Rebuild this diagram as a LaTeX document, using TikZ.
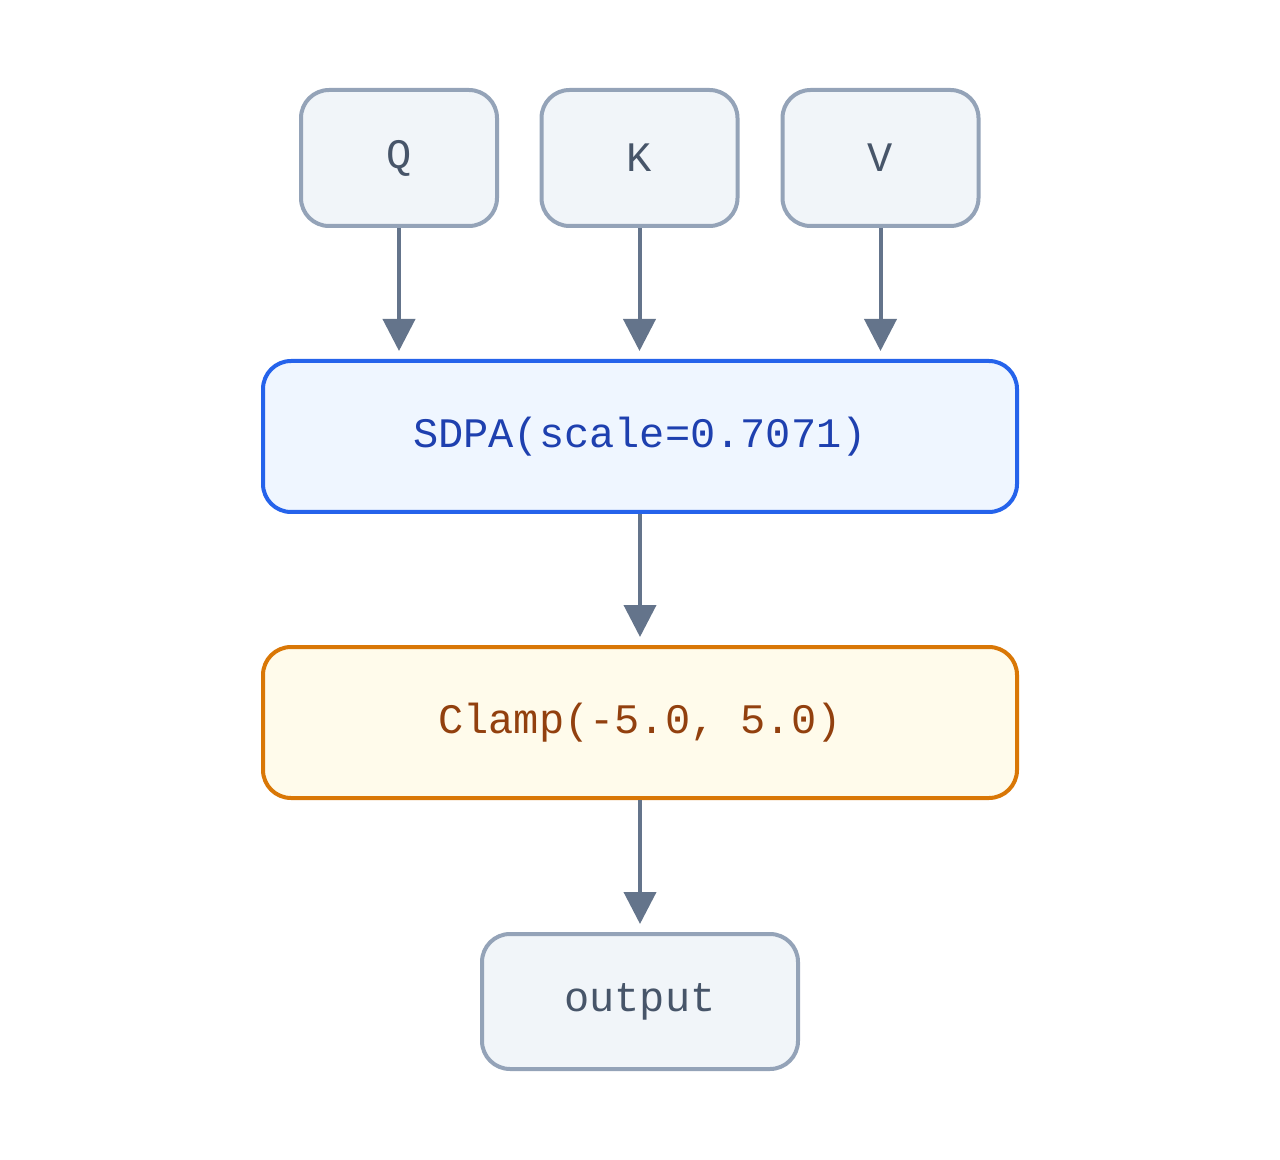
\documentclass[tikz,border=0pt]{standalone}
\usepackage{fontspec}
\setmainfont{Liberation Mono}
\usetikzlibrary{arrows.meta}
\definecolor{gfill}{HTML}{F1F5F9}\definecolor{gdraw}{HTML}{94A3B8}\definecolor{gtext}{HTML}{475569}
\definecolor{bfill}{HTML}{EFF6FF}\definecolor{bdraw}{HTML}{2563EB}\definecolor{btext}{HTML}{1E40AF}
\definecolor{ofill}{HTML}{FFFBEB}\definecolor{odraw}{HTML}{D97706}\definecolor{otext}{HTML}{92400E}
\definecolor{arr}{HTML}{64748B}
\begin{document}
\begin{tikzpicture}[x=0.5pt,y=-0.5pt,
 box/.style={rounded corners=14pt,line width=2pt,inner sep=0pt,font=\fontsize{21}{24}\selectfont},
 gbox/.style={box,fill=gfill,draw=gdraw,text=gtext},
 link/.style={draw=arr,line width=2pt,-{Triangle[length=16pt,width=16pt]},shorten >=4pt}]
\useasboundingbox (0,0) rectangle (1280,1160);
\node[gbox,minimum width=98pt,minimum height=68pt] (q) at (399,158) {Q};
\node[gbox,minimum width=98pt,minimum height=68pt] (k) at (639.5,158) {K};
\node[gbox,minimum width=98pt,minimum height=68pt] (v) at (880.5,158) {V};
\node[box,fill=bfill,draw=bdraw,text=btext,minimum width=377pt,minimum height=75.5pt] (s) at (640,436.5) {SDPA(scale=0.7071)};
\node[box,fill=ofill,draw=odraw,text=otext,minimum width=377pt,minimum height=75.5pt] (c) at (640,722.5) {Clamp(-5.0, 5.0)};
\node[gbox,minimum width=158pt,minimum height=67.5pt] (o) at (640,1001.5) {output};
\draw[link] (q) -- (q|-s.north);
\draw[link] (k) -- (k|-s.north);
\draw[link] (v) -- (v|-s.north);
\draw[link] (s) -- (c);
\draw[link] (c) -- (o);
\end{tikzpicture}
\end{document}
